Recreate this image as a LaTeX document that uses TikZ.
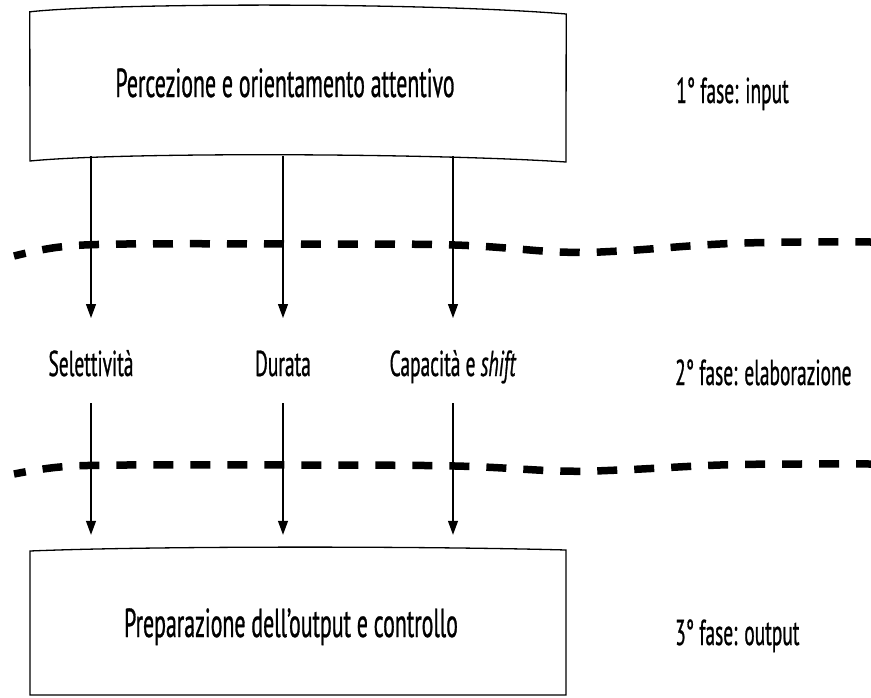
\documentclass[tikz,border=0pt]{standalone}
\usepackage{fontspec}
\setmainfont[FakeStretch=0.54,FakeBold=0.7]{PT Sans}
\usetikzlibrary{arrows.meta,calc}
\begin{document}
\begin{tikzpicture}[x=1pt,y=-1pt,
  frame/.style={draw=none,minimum width=536pt,inner sep=0pt},
  outline/.style={line width=1.3pt,line join=miter},
  boxtext/.style={font=\fontsize{40.5}{44}\selectfont,anchor=base,inner sep=0pt},
  mid/.style={font=\fontsize{36}{40}\selectfont,anchor=base,inner sep=0pt},
  phase/.style={font=\fontsize{36}{40}\selectfont,anchor=base west,inner sep=0pt},
  arr/.style={line width=1.2pt,-{Triangle[length=14pt,width=10pt]}},
  cut/.style={line width=7.5pt,dash pattern=on 20pt off 17pt,dash phase=8pt}]
\useasboundingbox (0,0) rectangle (871,697);

% first phase box
\node[frame,minimum height=144pt] (top) at (298,84) {};
\draw[outline] (top.north west) .. controls (110,3) and (420,2) .. (top.north east |- 0,14)
  -- (566,162) .. controls (430,153) and (120,152) .. (30,161) -- cycle;
\node[boxtext] (toptext) at (285,97) {Percezione e orientamento attentivo};

% third phase box
\node[frame,minimum height=146pt] (bot) at (298,622) {};
\draw[outline] (30,695) -- (30,551) .. controls (150,546) and (420,546) .. (566,550) -- (566,695) -- cycle;
\node[boxtext] (bottext) at (291,637) {Preparazione dell’output e controllo};

% second phase labels
\node[mid] (sel) at (91,376) {Selettività};
\node[mid] (dur) at (283,376) {Durata};
\node[mid] (cap) at (453,376) {Capacità e \textit{shift}};

% phase names
\node[phase] (p1) at (676,103) {1° fase: input};
\node[phase] (p2) at (675,385) {2° fase: elaborazione};
\node[phase] (p3) at (675,645) {3° fase: output};

% arrows
\foreach \n in {sel,dur,cap}{
  \draw[arr] (top.south -| \n) -- ([yshift=58pt]\n.base);
  \draw[arr] ([yshift=-27pt]\n.base) -- ([yshift=14pt]\n.base |- bot.north);
}

% dashed boundaries between phases
\draw[cut] plot[smooth,tension=0.6] coordinates
  {(14,256) (60,247) (126,244) (300,244) (455,245) (560,252) (620,251) (720,244) (800,242) (871,242)};
\draw[cut] plot[smooth,tension=0.6] coordinates
  {(14,474) (60,467) (126,465) (300,465) (455,466) (560,471) (620,470) (720,465) (800,464) (871,464)};
\end{tikzpicture}
\end{document}
